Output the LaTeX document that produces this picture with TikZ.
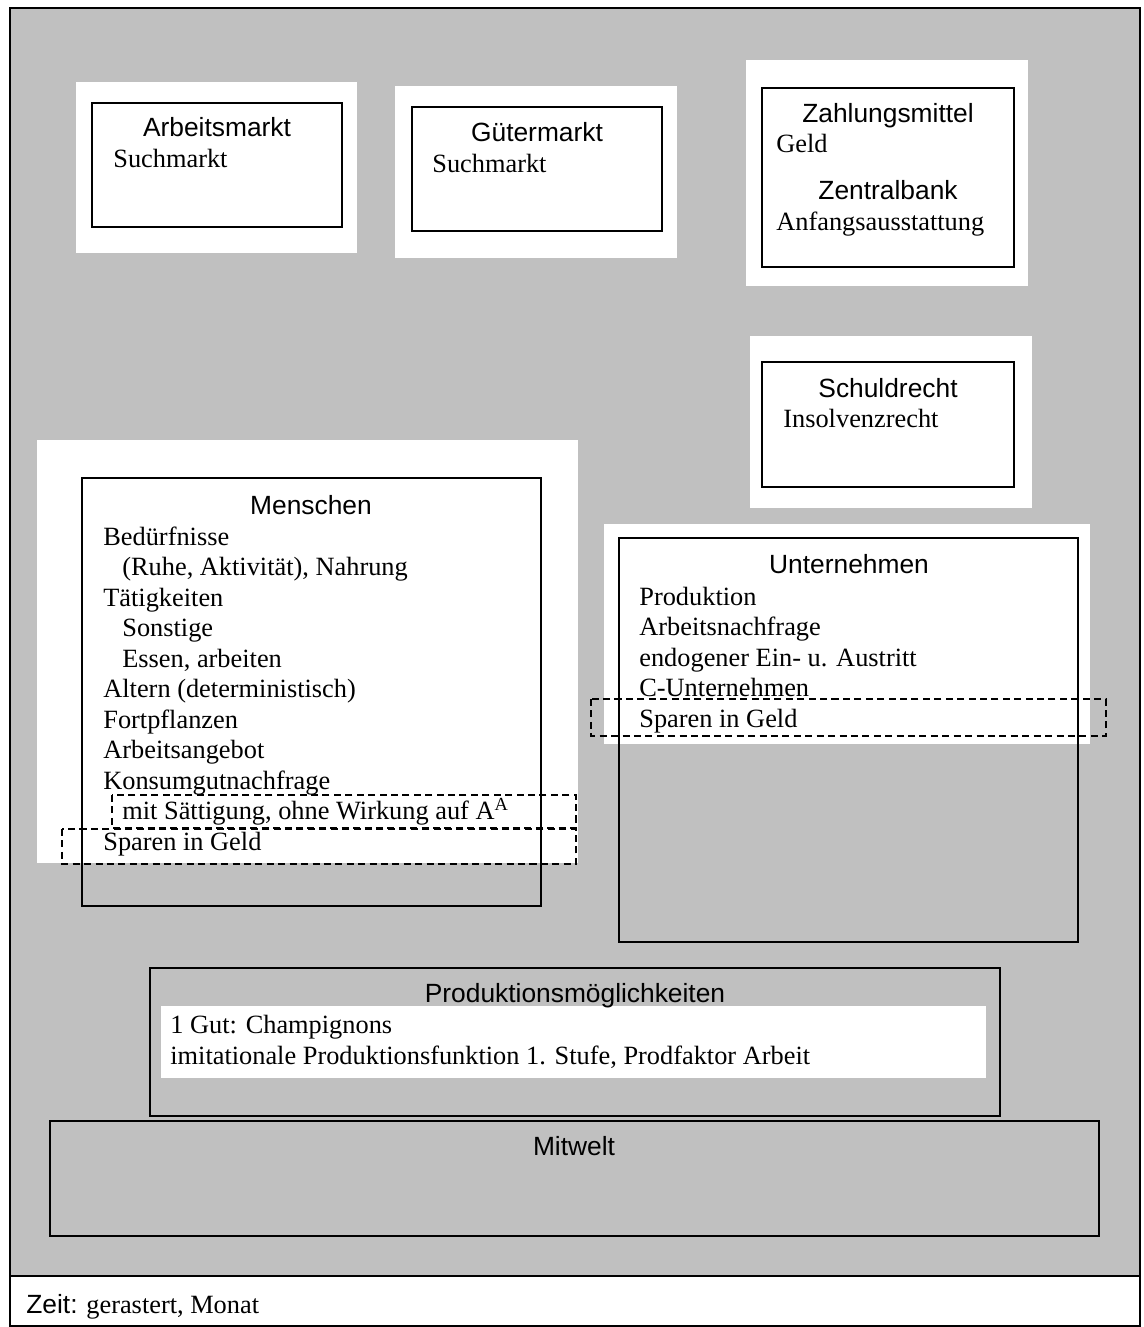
\documentclass[tikz,border=0pt]{standalone}
\usepackage{fontspec}
\setmainfont{Liberation Serif}
\setsansfont{Liberation Sans}
\definecolor{bggray}{RGB}{192,192,192}
\begin{document}
\begin{tikzpicture}[x=0.02cm,y=-0.02cm,
  frame/.style={draw=black,line width=1pt},
  pad/.style={fill=white},
  dashbox/.style={draw=black,line width=1pt,dash pattern=on 4pt off 2.5pt},
  head/.style={font=\sffamily\fontsize{15}{18}\selectfont,inner sep=0pt,anchor=base},
  txt/.style={font=\rmfamily\fontsize{15}{18}\selectfont,inner sep=0pt,anchor=base west}]
\useasboundingbox (0,0) rectangle (1143,1327);
\fill[white] (0,0) rectangle (1143,1327);
% background
\draw[frame,line width=1.2pt,fill=bggray] (10,8) rectangle (1140,1276);
\draw[frame,line width=1.2pt,fill=white] (10,1276) rectangle (1140,1326);
% white pads
\fill[pad] (76,82) rectangle (357,253);
\fill[pad] (395,86) rectangle (677,258);
\fill[pad] (746,60) rectangle (1028,286);
\fill[pad] (750,336) rectangle (1032,508);
\fill[pad] (37,440) rectangle (578,863);
\fill[pad] (604,524) rectangle (1090,744);
% boxes
\draw[frame] (92,103) rectangle (342,227);
\draw[frame] (412,107) rectangle (662,231);
\draw[frame] (762,88) rectangle (1014,267);
\draw[frame] (762,362) rectangle (1014,487);
\draw[frame] (82,478) rectangle (541,906);
\draw[frame] (619,538) rectangle (1078,942);
\draw[frame] (150,968) rectangle (1000,1116);
\fill[pad] (161,1006) rectangle (986,1078);
\draw[frame] (50,1121) rectangle (1099,1236);
% dashed boxes
\draw[dashbox] (112,795) rectangle (576,828);
\draw[dashbox] (62,829) rectangle (576,864);
\draw[dashbox] (591,699) rectangle (1106,736);
% Arbeitsmarkt
\node[head] (arbh) at (217,137) {Arbeitsmarkt};
\node[txt] (arbt) at (113,168) {Suchmarkt};
% Guetermarkt
\node[head] (guth) at (537,142) {Gütermarkt};
\node[txt] (gutt) at (432,173) {Suchmarkt};
% Zahlungsmittel
\node[head] (zahh) at (888,123) {Zahlungsmittel};
\node[txt] (zaht) at (776,153) {Geld};
\node[head] (zenh) at (888,200) {Zentralbank};
\node[txt] (zent) at (776,231) {Anfangsausstattung};
% Schuldrecht
\node[head] (schh) at (888,398) {Schuldrecht};
\node[txt] (scht) at (783,427) {Insolvenzrecht};
% Menschen
\node[head] (menh) at (311,514) {Menschen};
\node[txt] (m1) at (103,545) {Bedürfnisse};
\node[txt] (m2) at (122,575.5) {(Ruhe, Aktivität), Nahrung};
\node[txt] (m3) at (103,606) {Tätigkeiten};
\node[txt] (m4) at (122,636.5) {Sonstige};
\node[txt] (m5) at (122,667) {Essen, arbeiten};
\node[txt] (m6) at (103,697.5) {Altern (deterministisch)};
\node[txt] (m7) at (103,728) {Fortpflanzen};
\node[txt] (m8) at (103,758.5) {Arbeitsangebot};
\node[txt] (m9) at (103,789) {Konsumgutnachfrage};
\node[txt] (m10) at (122,819.5) {mit Sättigung, ohne Wirkung auf A\textsuperscript{A}};
\node[txt] (m11) at (103,850) {Sparen in Geld};
% Unternehmen
\node[head] (unth) at (849,573) {Unternehmen};
\node[txt] (u1) at (639,605) {Produktion};
\node[txt] (u2) at (639,635.5) {Arbeitsnachfrage};
\node[txt] (u3) at (639,666) {endogener Ein- u. Austritt};
\node[txt] (u4) at (639,696.5) {C-Unternehmen};
\node[txt] (u5) at (639,727) {Sparen in Geld};
% Produktionsmoeglichkeiten
\node[head] (proh) at (575,1002) {Produktionsmöglichkeiten};
\node[txt] (p1) at (170,1033) {1 Gut: Champignons};
\node[txt] (p2) at (170,1064) {imitationale Produktionsfunktion 1. Stufe, Prodfaktor Arbeit};
% Mitwelt
\node[head] (mith) at (574,1155) {Mitwelt};
% Zeit
\node[txt] (zeit) at (26,1313) {{\sffamily Zeit:} gerastert, Monat};
\end{tikzpicture}
\end{document}
